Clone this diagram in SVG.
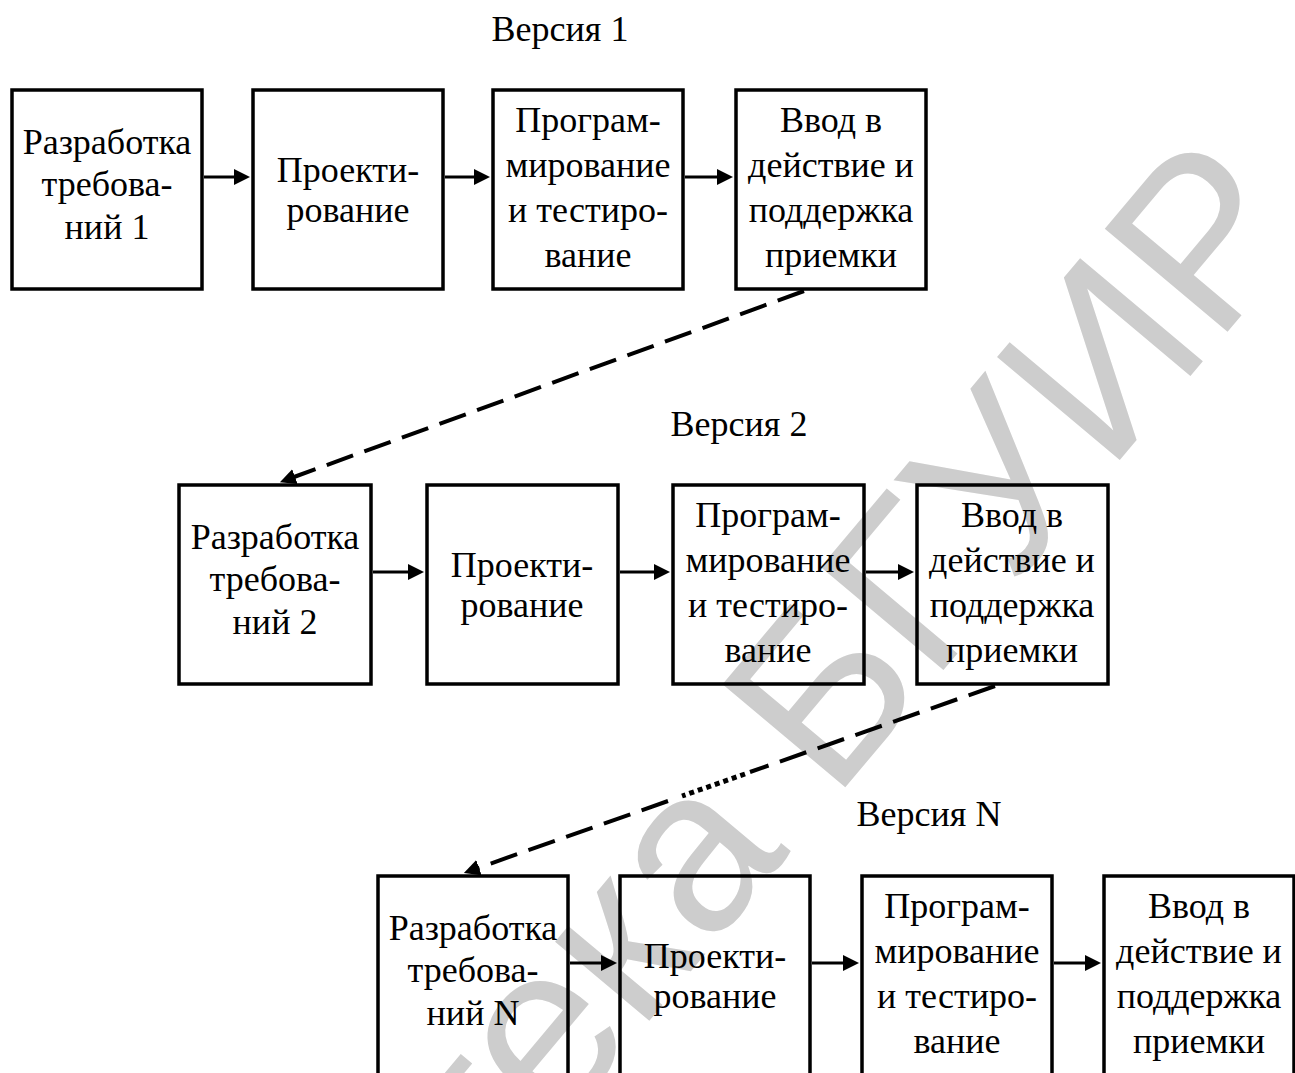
<svg xmlns="http://www.w3.org/2000/svg" width="1295" height="1073" viewBox="0 0 1295 1073">
<style>
.bx{fill:none;stroke:#000;stroke-width:3.5}
.t{font-family:"Liberation Serif","Times New Roman",serif;font-size:36px;fill:#000;text-anchor:middle}
.ar{stroke:#000;stroke-width:3;fill:none}
.dl{stroke:#000;stroke-width:4;fill:none;stroke-dasharray:28 12}
.dt{stroke:#000;stroke-width:5;fill:none;stroke-dasharray:5 4}
.wm{font-family:"Liberation Sans",Arial,sans-serif;font-size:233px;fill:#cdcdcd}
</style>
<defs>
<marker id="ah" markerUnits="userSpaceOnUse" markerWidth="17" markerHeight="16" refX="1" refY="8" orient="auto">
<path d="M0,0 L16,8 L0,16 z" fill="#000"/>
</marker>
</defs>
<rect width="1295" height="1073" fill="#fff"/>
<text class="wm" transform="translate(-23,1822) rotate(-50)">Библиотека БГУИР</text>

<text class="t" x="560" y="41">Версия 1</text>
<text class="t" x="739" y="436">Версия 2</text>
<text class="t" x="929" y="826">Версия N</text>

<!-- Row 1 -->
<g id="v1-req"><rect class="bx" x="12" y="90" width="190" height="199"/>
<text class="t"><tspan x="107" y="154">Разработка</tspan><tspan x="107" y="196">требова-</tspan><tspan x="107" y="239">ний 1</tspan></text></g>
<g id="v1-design"><rect class="bx" x="253" y="90" width="190" height="199"/>
<text class="t"><tspan x="348" y="182">Проекти-</tspan><tspan x="348" y="222">рование</tspan></text></g>
<g id="v1-prog"><rect class="bx" x="493" y="90" width="190" height="199"/>
<text class="t"><tspan x="588" y="132">Програм-</tspan><tspan x="588" y="177">мирование</tspan><tspan x="588" y="222">и тестиро-</tspan><tspan x="588" y="267">вание</tspan></text></g>
<g id="v1-deploy"><rect class="bx" x="736" y="90" width="190" height="199"/>
<text class="t"><tspan x="831" y="132">Ввод в</tspan><tspan x="831" y="177">действие и</tspan><tspan x="831" y="222">поддержка</tspan><tspan x="831" y="267">приемки</tspan></text></g>

<!-- Row 2 -->
<g id="v2-req"><rect class="bx" x="179" y="485" width="192" height="199"/>
<text class="t"><tspan x="275" y="549">Разработка</tspan><tspan x="275" y="591">требова-</tspan><tspan x="275" y="634">ний 2</tspan></text></g>
<g id="v2-design"><rect class="bx" x="427" y="485" width="191" height="199"/>
<text class="t"><tspan x="522" y="577">Проекти-</tspan><tspan x="522" y="617">рование</tspan></text></g>
<g id="v2-prog"><rect class="bx" x="673" y="485" width="191" height="199"/>
<text class="t"><tspan x="768" y="527">Програм-</tspan><tspan x="768" y="572">мирование</tspan><tspan x="768" y="617">и тестиро-</tspan><tspan x="768" y="662">вание</tspan></text></g>
<g id="v2-deploy"><rect class="bx" x="917" y="485" width="191" height="199"/>
<text class="t"><tspan x="1012" y="527">Ввод в</tspan><tspan x="1012" y="572">действие и</tspan><tspan x="1012" y="617">поддержка</tspan><tspan x="1012" y="662">приемки</tspan></text></g>

<!-- Row 3 -->
<g id="vN-req"><rect class="bx" x="378" y="876" width="190" height="199"/>
<text class="t"><tspan x="473" y="940">Разработка</tspan><tspan x="473" y="982">требова-</tspan><tspan x="473" y="1025">ний N</tspan></text></g>
<g id="vN-design"><rect class="bx" x="620" y="876" width="190" height="199"/>
<text class="t"><tspan x="715" y="968">Проекти-</tspan><tspan x="715" y="1008">рование</tspan></text></g>
<g id="vN-prog"><rect class="bx" x="862" y="876" width="190" height="199"/>
<text class="t"><tspan x="957" y="918">Програм-</tspan><tspan x="957" y="963">мирование</tspan><tspan x="957" y="1008">и тестиро-</tspan><tspan x="957" y="1053">вание</tspan></text></g>
<g id="vN-deploy"><rect class="bx" x="1104" y="876" width="190" height="199"/>
<text class="t"><tspan x="1199" y="918">Ввод в</tspan><tspan x="1199" y="963">действие и</tspan><tspan x="1199" y="1008">поддержка</tspan><tspan x="1199" y="1053">приемки</tspan></text></g>

<g id="connectors">
<line class="ar" x1="204" y1="177" x2="235" y2="177" marker-end="url(#ah)"/>
<line class="ar" x1="445" y1="177" x2="475" y2="177" marker-end="url(#ah)"/>
<line class="ar" x1="685" y1="177" x2="718" y2="177" marker-end="url(#ah)"/>
<line class="ar" x1="373" y1="572" x2="409" y2="572" marker-end="url(#ah)"/>
<line class="ar" x1="620" y1="572" x2="655" y2="572" marker-end="url(#ah)"/>
<line class="ar" x1="866" y1="572" x2="899" y2="572" marker-end="url(#ah)"/>
<line class="ar" x1="570" y1="963" x2="602" y2="963" marker-end="url(#ah)"/>
<line class="ar" x1="812" y1="963" x2="844" y2="963" marker-end="url(#ah)"/>
<line class="ar" x1="1054" y1="963" x2="1086" y2="963" marker-end="url(#ah)"/>
<line class="dl" x1="804" y1="291" x2="294" y2="477" marker-end="url(#ah)"/>
<line class="dl" x1="995" y1="686" x2="750" y2="772"/>
<line class="dt" x1="745" y1="774" x2="682" y2="796"/>
<line class="dl" x1="668" y1="801" x2="478" y2="868" marker-end="url(#ah)"/>
</g>
</svg>
